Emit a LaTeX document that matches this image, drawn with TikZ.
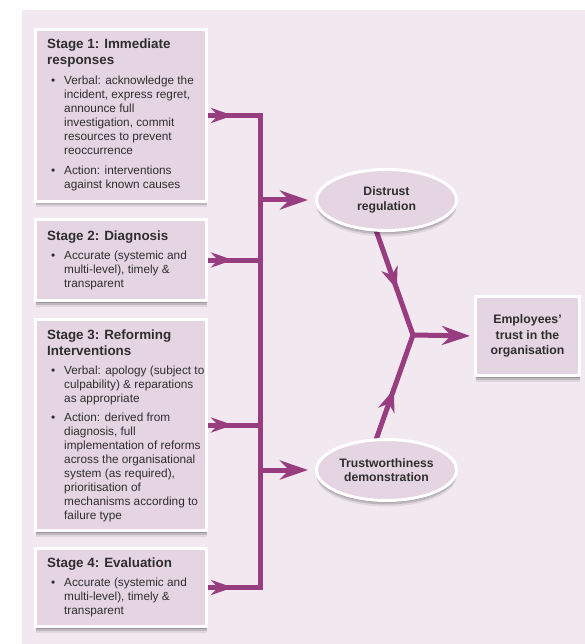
\documentclass[tikz,border=0pt]{standalone}
\usepackage{fontspec}
\setmainfont{Liberation Sans}
\usetikzlibrary{arrows.meta,shadows,decorations.markings,calc,shapes.geometric}
\definecolor{panelc}{HTML}{F2E8F0}
\definecolor{boxfill}{HTML}{E5D5E2}
\definecolor{arr}{HTML}{983D80}
\definecolor{txt}{HTML}{2E2E2E}
\newcommand{\bodyf}{\fontsize{11.8}{14}\selectfont}
\newcommand{\titlef}{\fontsize{13.4}{16}\selectfont\bfseries}
\newcommand{\bi}{\makebox[17pt][l]{\hspace{4pt}\textbullet}}
\newcommand{\ttl}[1]{\multicolumn{2}{@{}l@{}}{\titlef #1}}
\pgfdeclarelayer{panellayer}
\pgfdeclarelayer{connlayer}
\pgfsetlayers{panellayer,connlayer,main}
\tikzset{
  boxshadow/.style={
    drop shadow={shadow xshift=0pt,shadow yshift=-2pt,opacity=.18,fill=black},
    drop shadow={shadow xshift=0pt,shadow yshift=-4pt,opacity=.14,fill=black},
    drop shadow={shadow xshift=0pt,shadow yshift=-6pt,opacity=.08,fill=black}},
  stagebox/.style={draw=white,line width=3pt,fill=boxfill,boxshadow,anchor=north west,inner sep=0pt},
  stagetext/.style={anchor=north west,inner sep=0pt,text=txt,font=\bodyf},
  oval/.style={ellipse,draw=white,line width=3pt,fill=boxfill,boxshadow,inner sep=0pt,
    align=center,text=txt,font=\fontsize{12.2}{14.5}\selectfont\bfseries},
  empbox/.style={draw=white,line width=3pt,fill=boxfill,boxshadow,inner sep=0pt,
    align=center,text=txt,font=\fontsize{12.3}{15.5}\selectfont\bfseries},
  conn/.style={color=arr,line width=5pt,line join=miter},
  bigtip/.tip={Stealth[length=28pt,width=19pt,inset=9pt]},
  smalltip/.tip={Stealth[length=22pt,width=15pt,inset=7pt]},
  midtip/.style={postaction={decorate,decoration={markings,
    mark=at position #1 with {\arrow{Stealth[length=22pt,width=17pt,inset=7pt]}}}}}
}
\begin{document}
\begin{tikzpicture}[x=1pt,y=-1pt]
\useasboundingbox (0,0) rectangle (585,644);
\begin{pgfonlayer}{panellayer}
\fill[panelc] (22,10) rectangle (585,644);
\end{pgfonlayer}

% stage boxes
\node[stagebox,minimum width=171,minimum height=172] (s1) at (34,28) {};
\node[stagebox,minimum width=171,minimum height=81] (s2) at (34,218) {};
\node[stagebox,minimum width=171,minimum height=211] (s3) at (34,318) {};
\node[stagebox,minimum width=171,minimum height=78] (s4) at (34,547) {};

\node[stagetext] (s1t) at ($(s1.north west)+(13,11)$) {%
\begin{tabular}{@{}l@{}l@{}}
\ttl{Stage 1: Immediate}\\[2pt]
\ttl{responses}\\[6pt]
\bi & Verbal: acknowledge the\\
 & incident, express regret,\\
 & announce full\\
 & investigation, commit\\
 & resources to prevent\\
 & reoccurrence\\[6pt]
\bi & Action: interventions\\
 & against known causes
\end{tabular}};

\node[stagetext] (s2t) at ($(s2.north west)+(13,12)$) {%
\begin{tabular}{@{}l@{}l@{}}
\ttl{Stage 2: Diagnosis}\\[5pt]
\bi & Accurate (systemic and\\
 & multi-level), timely \&\\
 & transparent
\end{tabular}};

\node[stagetext] (s3t) at ($(s3.north west)+(13,11)$) {%
\begin{tabular}{@{}l@{}l@{}}
\ttl{Stage 3: Reforming}\\[2pt]
\ttl{Interventions}\\[5pt]
\bi & Verbal: apology (subject to\\
 & culpability) \& reparations\\
 & as appropriate\\[5pt]
\bi & Action: derived from\\
 & diagnosis, full\\
 & implementation of reforms\\
 & across the organisational\\
 & system (as required),\\
 & prioritisation of\\
 & mechanisms according to\\
 & failure type
\end{tabular}};

\node[stagetext] (s4t) at ($(s4.north west)+(13,10)$) {%
\begin{tabular}{@{}l@{}l@{}}
\ttl{Stage 4: Evaluation}\\[5pt]
\bi & Accurate (systemic and\\
 & multi-level), timely \&\\
 & transparent
\end{tabular}};

% ovals and outcome
\node[oval,minimum width=140,minimum height=61] (d) at (386.5,200) {Distrust\\regulation};
\node[oval,minimum width=140,minimum height=61] (t) at (386.5,470) {Trustworthiness\\demonstration};
\node[empbox,minimum width=104,minimum height=79] (e) at (527.5,336) {Employees’\\trust in the\\organisation};

\coordinate (busx) at (260,0);
\coordinate (J) at (413,335);

\begin{pgfonlayer}{connlayer}
% bus
\draw[conn] (s1.east) -- (s1.east -| busx) -- (s4.east -| busx) -- (s4.east);
\draw[conn] (s2.east) -- (s2.east -| busx);
\draw[conn] (s3.east) -- (s3.east -| busx);
% tips leaving the stage boxes
\draw[conn,-{smalltip}] (s1.east) -- ++(25,0);
\draw[conn,-{smalltip}] (s2.east) -- ++(25,0);
\draw[conn,-{smalltip}] (s3.east) -- ++(25,0);
\draw[conn,-{smalltip}] (s4.east) -- ++(25,0);
% to the ovals
\draw[conn,-{bigtip},shorten >=7pt] (d.west -| busx) -- (d.west);
\draw[conn,-{bigtip},shorten >=7pt] (t.west -| busx) -- (t.west);
% Y junction
\draw[conn,line cap=round,midtip=0.58] ([xshift=-12pt,yshift=6pt]d.south) -- (J);
\draw[conn,line cap=round,midtip=0.5] ([xshift=-12pt,yshift=-6pt]t.north) -- (J);
\draw[conn,-{bigtip},shorten >=4pt] (J) -- (e.west);
\end{pgfonlayer}
\end{tikzpicture}
\end{document}
